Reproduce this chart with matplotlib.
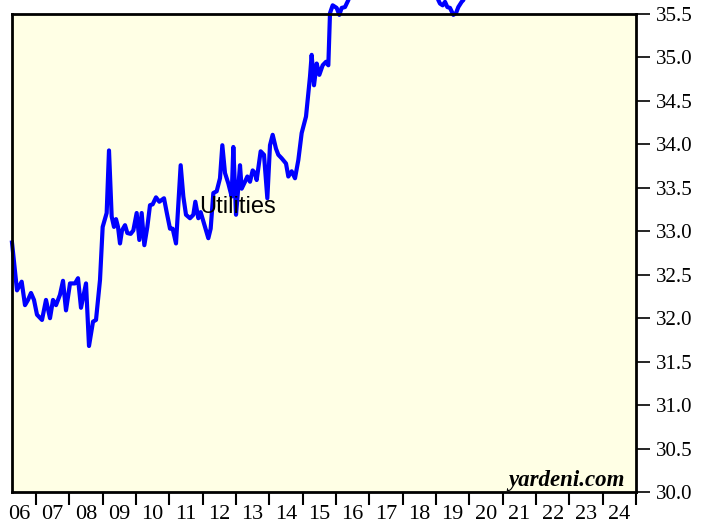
"""
Utilities - reproduçao do grafico (yardeni.com)
"""
import numpy as np
import matplotlib
matplotlib.use('Agg')
import matplotlib.pyplot as plt
from matplotlib.ticker import FixedLocator, FixedFormatter, FormatStrFormatter

# Datas em anos decimais e valores
anos = [2006.28, 2006.43, 2006.57, 2006.67, 2006.76, 2006.85, 2006.94, 2007.03,
        2007.18, 2007.30, 2007.42, 2007.51, 2007.60, 2007.72, 2007.81, 2007.90,
        2008.02, 2008.17, 2008.26, 2008.35, 2008.50, 2008.59, 2008.71, 2008.80,
        2008.92, 2009.00, 2009.12, 2009.19, 2009.27, 2009.34, 2009.40, 2009.46,
        2009.52, 2009.58, 2009.67, 2009.74, 2009.84, 2009.92, 2010.02, 2010.10,
        2010.17, 2010.25, 2010.34, 2010.42, 2010.50, 2010.60, 2010.70, 2010.77,
        2010.84, 2010.92, 2011.02, 2011.10, 2011.20, 2011.34, 2011.42, 2011.50,
        2011.62, 2011.72, 2011.78, 2011.87, 2011.94, 2012.07, 2012.17, 2012.24,
        2012.32, 2012.42, 2012.52, 2012.59, 2012.67, 2012.77, 2012.87, 2012.92,
        2013.00, 2013.07, 2013.12, 2013.17, 2013.27, 2013.34, 2013.42, 2013.50,
        2013.57, 2013.62, 2013.74, 2013.84, 2013.94, 2014.02, 2014.10, 2014.20,
        2014.27, 2014.37, 2014.50, 2014.57, 2014.67, 2014.77, 2014.87, 2014.97,
        2015.10, 2015.22, 2015.27, 2015.34, 2015.42, 2015.50, 2015.60, 2015.70,
        2015.77, 2015.82, 2015.90, 2016.02, 2016.10, 2016.17, 2016.27, 2016.37,
        2016.70, 2017.30, 2018.00, 2018.60,
        2019.07, 2019.12, 2019.20, 2019.27, 2019.34, 2019.42, 2019.52, 2019.60,
        2019.67, 2019.77, 2019.82, 2020.10]
valores = [32.87, 32.32, 32.42, 32.15, 32.21, 32.29, 32.21, 32.04,
           31.98, 32.21, 32.00, 32.21, 32.15, 32.27, 32.43, 32.09,
           32.40, 32.40, 32.46, 32.12, 32.40, 31.68, 31.96, 31.98,
           32.44, 33.05, 33.21, 33.93, 33.17, 33.05, 33.14, 33.05,
           32.86, 33.01, 33.07, 32.98, 32.97, 33.01, 33.21, 32.90,
           33.21, 32.84, 33.05, 33.30, 33.31, 33.39, 33.34, 33.36,
           33.38, 33.22, 33.03, 33.03, 32.86, 33.76, 33.40, 33.19,
           33.15, 33.19, 33.34, 33.15, 33.22, 33.05, 32.92, 33.03,
           33.44, 33.46, 33.61, 33.99, 33.67, 33.55, 33.40, 33.97,
           33.19, 33.51, 33.76, 33.49, 33.57, 33.63, 33.57, 33.70,
           33.67, 33.59, 33.92, 33.88, 33.38, 33.99, 34.11, 33.95,
           33.88, 33.84, 33.78, 33.63, 33.69, 33.61, 33.82, 34.13,
           34.32, 34.78, 35.03, 34.68, 34.93, 34.80, 34.91, 34.95,
           34.91, 35.51, 35.60, 35.57, 35.49, 35.57, 35.58, 35.66,
           36.20, 36.60, 36.70, 36.30,
           35.66, 35.62, 35.60, 35.64, 35.58, 35.57, 35.49, 35.51,
           35.58, 35.64, 35.66, 36.20]

anos_labels = ['06', '07', '08', '09', '10', '11', '12', '13', '14', '15',
               '16', '17', '18', '19', '20', '21', '22', '23', '24']
y_ticks = np.arange(30.0, 35.51, 0.5)

fig = plt.figure(figsize=(7.14, 5.29), dpi=100)
ax = fig.add_axes([12/714, 37/529, 624/714, 478/529])
ax.set_facecolor('#FFFFE5')

ax.plot(anos, valores, color='#0000FF', linewidth=3, clip_on=False, zorder=2)

ax.set_xlim(2006.28, 2025.0)
ax.set_ylim(30.0, 35.5)

# eixo x: marcas nos limites dos anos, rotulos no meio
ax.xaxis.set_major_locator(FixedLocator(np.arange(2007, 2026)))
ax.xaxis.set_major_formatter(FixedFormatter([''] * 19))
meio = [2006.5 + i for i in range(len(anos_labels))]
ax.xaxis.set_minor_locator(FixedLocator(meio))
ax.xaxis.set_minor_formatter(FixedFormatter(anos_labels))
ax.tick_params(axis='x', which='major', direction='out', length=9.5, width=1.5)
ax.tick_params(axis='x', which='minor', length=0, pad=9.5, labelsize=16)

# eixo y a direita
ax.yaxis.tick_right()
ax.set_yticks(y_ticks)
ax.yaxis.set_major_formatter(FormatStrFormatter('%.1f'))
ax.tick_params(axis='y', which='major', direction='out', length=10, width=1.2,
               pad=4, labelsize=15)

for lab in ax.get_xticklabels(minor=True) + ax.get_yticklabels():
    lab.set_fontfamily('Liberation Serif')

for sp in ax.spines.values():
    sp.set_linewidth(2)
    sp.set_color('black')
    sp.set_zorder(3)

ax.text(0.362, 0.596, 'Utilities', transform=ax.transAxes, ha='center',
        va='center', fontsize=17, family='Liberation Sans', zorder=4)
ax.text(0.982, 0.012, 'yardeni.com', transform=ax.transAxes, ha='right',
        va='baseline', fontsize=16.5, family='Liberation Serif',
        fontweight='bold', fontstyle='italic')

fig.savefig('out.png', dpi=100, facecolor='white')
